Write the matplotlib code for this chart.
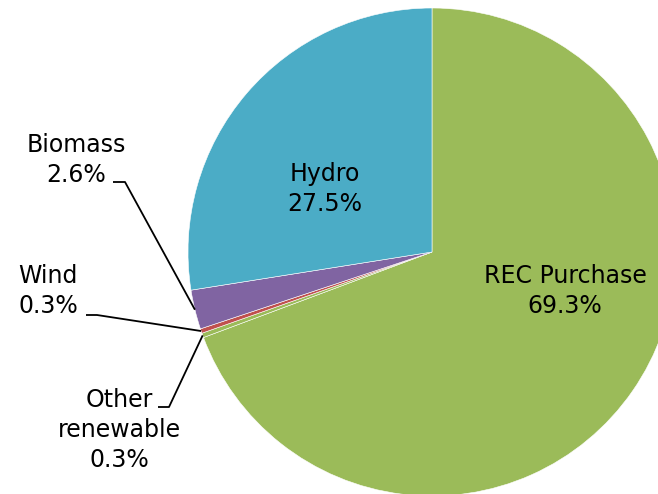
import numpy as np
import matplotlib.pyplot as plt

labels = ['REC Purchase', 'Other\nrenewable', 'Wind', 'Biomass', 'Hydro']
shares = [69.3, 0.3, 0.3, 2.6, 27.5]
colors = ['#9BBB59', '#9BBB59', '#C0504D', '#8064A2', '#4BACC6']

W, H = 658, 494
fig = plt.figure(figsize=(W / 100, H / 100), dpi=100)
ax = fig.add_axes([0, 0, 1, 1])

cx, cy, r = 432, H - 252, 244
wedges, _ = ax.pie(shares, colors=colors, startangle=90, counterclock=False,
                   center=(cx, cy), radius=r,
                   wedgeprops=dict(edgecolor='white', linewidth=0.4))
ax.set_xlim(0, W)
ax.set_ylim(0, H)
ax.set_aspect('equal')
ax.axis('off')

fs = 17
ls = 1.3
txt = {l: f'{l}\n{v}%' for l, v in zip(labels, shares)}

# labels inside the big slices
ax.text(325, H - 189, txt['Hydro'], ha='center', va='center', fontsize=fs, linespacing=ls)
ax.text(565, H - 291, txt['REC Purchase'], ha='center', va='center', fontsize=fs, linespacing=ls)

# outside labels with leader lines: (label, text pos, line start, elbow)
outside = [
    ('Biomass', (76, 160), (113, 182), (125, 182)),
    ('Wind', (48, 291), (86, 315), (97, 315)),
    ('Other\nrenewable', (119, 430), (158, 407), (169, 407)),
]
for name, tpos, start, elbow in outside:
    w = wedges[labels.index(name)]
    ang = np.deg2rad((w.theta1 + w.theta2) / 2)
    px, py = cx + r * np.cos(ang), cy + r * np.sin(ang)
    ax.text(tpos[0], H - tpos[1], txt[name], ha='center', va='center',
            fontsize=fs, linespacing=ls)
    ax.plot([start[0], elbow[0], px], [H - start[1], H - elbow[1], py],
            color='black', lw=1.3, solid_capstyle='butt')

fig.savefig('out.png', dpi=100)
